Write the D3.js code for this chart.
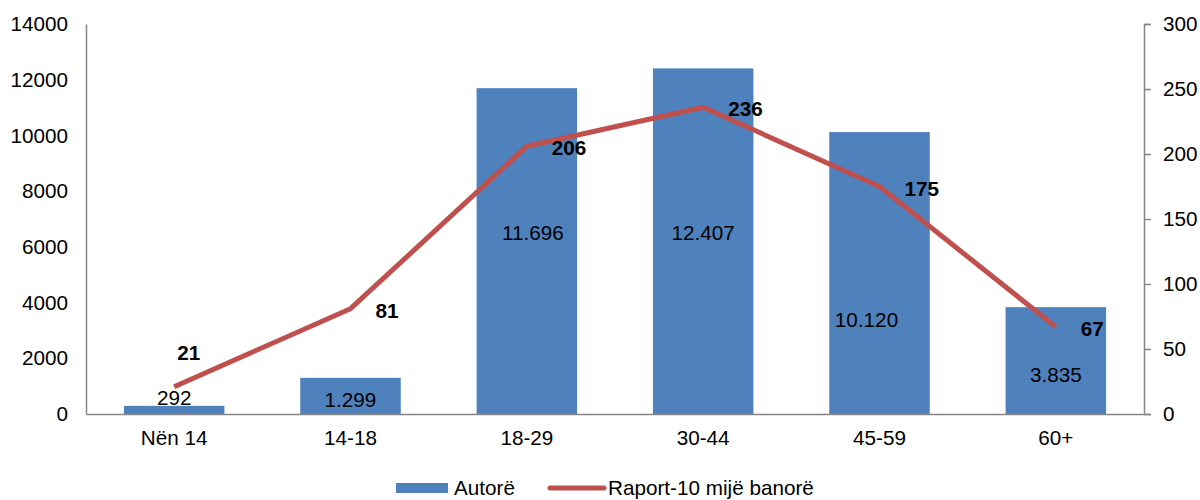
<!DOCTYPE html>
<html>
<head>
<meta charset="utf-8">
<script src="https://cdn.jsdelivr.net/npm/d3@7"></script>
<style>
  body { margin: 0; background: #fff; }
  text { font-family: "Liberation Sans", Arial, sans-serif; fill: #000; }
</style>
</head>
<body>
<div id="chart"></div>
<script>
// Age groups and their values
var categories = ['Nën 14', '14-18', '18-29', '30-44', '45-59', '60+'];
var authors    = [292, 1299, 11696, 12407, 10120, 3835];        // Autorë (left axis)
var ratio      = [21, 81, 206, 236, 175, 67];                   // Raport-10 mijë banorë (right axis)
var authorLabels = ['292', '1.299', '11.696', '12.407', '10.120', '3.835'];
var leftTicks  = [0, 2000, 4000, 6000, 8000, 10000, 12000, 14000];
var rightTicks = [0, 50, 100, 150, 200, 250, 300];

// Where the bar labels sit, in left-axis units (placed by hand in the original)
var barLabelLevel = [574, 503, 6497, 6497, 3374, 1400];
var barLabelShift = [0, 0, 6, 0, -13, 0];

var fontSize = '20.7px';
var width = 1200, height = 500;
var margin = { top: 24, right: 56, bottom: 86, left: 86 };
var plotW = width - margin.left - margin.right;
var plotH = height - margin.top - margin.bottom;

var svg = d3.select('#chart').append('svg')
    .attr('width', width)
    .attr('height', height);

var g = svg.append('g')
    .attr('transform', 'translate(' + margin.left + ',' + margin.top + ')');

var x = d3.scaleBand()
    .domain(categories)
    .range([0, plotW])
    .paddingInner(0.43)
    .paddingOuter(0.215);

var yLeft = d3.scaleLinear().domain([0, 14000]).range([plotH, 0]);
var yRight = d3.scaleLinear().domain([0, 300]).range([plotH, 0]);

var data = categories.map(function(c, i) {
    return { cat: c, authors: authors[i], ratio: ratio[i], label: authorLabels[i], i: i };
});

// bars
g.selectAll('rect.bar')
    .data(data)
    .enter()
    .append('rect')
        .attr('class', 'bar')
        .attr('x', function(d) { return x(d.cat); })
        .attr('y', function(d) { return yLeft(d.authors); })
        .attr('width', x.bandwidth())
        .attr('height', function(d) { return plotH - yLeft(d.authors); })
        .attr('fill', '#4F81BD');

// bar value labels
g.selectAll('text.barlbl')
    .data(data)
    .enter()
    .append('text')
        .attr('class', 'barlbl')
        .attr('x', function(d) { return x(d.cat) + x.bandwidth() / 2 + barLabelShift[d.i]; })
        .attr('y', function(d) { return yLeft(barLabelLevel[d.i]); })
        .attr('dy', '0.35em')
        .attr('text-anchor', 'middle')
        .style('font-size', fontSize)
        .text(function(d) { return d.label; });

// axes
var axisColor = '#868686';
var axisFont = '"Liberation Sans", Arial, sans-serif';
var leftAxis = g.append('g')
    .call(d3.axisLeft(yLeft).tickValues(leftTicks).tickSize(0).tickPadding(18).tickFormat(d3.format('d')));
leftAxis.select('.domain').attr('stroke', axisColor).attr('stroke-width', 1.5);
leftAxis.selectAll('text').style('font-size', fontSize).style('font-family', axisFont);

var rightAxis = g.append('g')
    .attr('transform', 'translate(' + plotW + ',0)')
    .call(d3.axisRight(yRight).tickValues(rightTicks).tickSize(7).tickPadding(12).tickSizeOuter(7));
rightAxis.select('.domain').attr('stroke', axisColor).attr('stroke-width', 1.5);
rightAxis.selectAll('line').attr('stroke', axisColor).attr('stroke-width', 1.5);
rightAxis.selectAll('text').style('font-size', fontSize).style('font-family', axisFont);

var bottomAxis = g.append('g')
    .attr('transform', 'translate(0,' + plotH + ')')
    .call(d3.axisBottom(x).tickSize(0).tickPadding(16));
bottomAxis.select('.domain').attr('stroke', axisColor).attr('stroke-width', 1.5);
bottomAxis.selectAll('text').style('font-size', fontSize).style('font-family', axisFont);

// ratio line
var line = d3.line()
    .x(function(d) { return x(d.cat) + x.bandwidth() / 2; })
    .y(function(d) { return yRight(d.ratio); });

g.append('path')
    .datum(data)
    .attr('d', line)
    .attr('fill', 'none')
    .attr('stroke', '#C0504D')
    .attr('stroke-width', 5)
    .attr('stroke-linejoin', 'round');

// ratio labels: to the right of each point, except the first which sits above
g.selectAll('text.ratiolbl')
    .data(data)
    .enter()
    .append('text')
        .attr('class', 'ratiolbl')
        .attr('x', function(d) { return x(d.cat) + x.bandwidth() / 2 + (d.i === 0 ? 3 : 25); })
        .attr('y', function(d) { return yRight(d.ratio) + (d.i === 0 ? -34 : 2); })
        .attr('dy', '0.35em')
        .style('font-size', fontSize)
        .style('font-weight', 'bold')
        .text(function(d) { return d.ratio; });

// legend
var legend = svg.append('g').attr('transform', 'translate(396,488)');
legend.append('rect')
    .attr('x', 0).attr('y', -5)
    .attr('width', 52).attr('height', 10)
    .attr('fill', '#4F81BD');
legend.append('text')
    .attr('x', 58).attr('y', 0).attr('dy', '0.35em')
    .style('font-size', fontSize)
    .text('Autorë');
legend.append('line')
    .attr('x1', 154).attr('x2', 208)
    .attr('y1', 0).attr('y2', 0)
    .attr('stroke', '#C0504D')
    .attr('stroke-width', 5)
    .attr('stroke-linecap', 'round');
legend.append('text')
    .attr('x', 212).attr('y', 0).attr('dy', '0.35em')
    .style('font-size', fontSize)
    .text('Raport-10 mijë banorë');
</script>
</body>
</html>
